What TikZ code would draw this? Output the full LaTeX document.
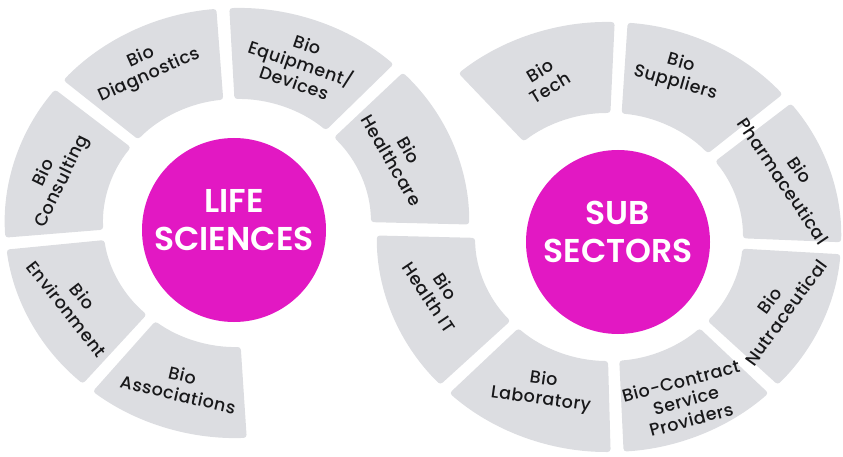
\documentclass[tikz,border=0pt]{standalone}
\usepackage{fontspec}
\setmainfont{Poppins}[UprightFont=* Medium, BoldFont=* SemiBold]
\newfontfamily\lblfont{Poppins}[UprightFont=* Medium, LetterSpace=3]
\usepackage{tikz}
\definecolor{segGray}{RGB}{220,221,225}
\definecolor{hubPink}{RGB}{226,24,195}
\definecolor{txtDark}{RGB}{24,24,26}
% one piece of a ring, from angle #1 to angle #2
\newcommand{\ringseg}[2]{%
  \fill[seg] ({#1+1.6}:215) arc[start angle={#1+1.6}, end angle={#2-1.6}, radius=215]
    -- ({#2-2.4}:124) arc[start angle={#2-2.4}, end angle={#1+2.4}, radius=124] -- cycle;}

\begin{document}
\begin{tikzpicture}[x=1pt,y=1pt]
      \tikzstyle{seg}=[fill=segGray, rounded corners=3pt]
      \tikzstyle{lbl}=[font=\lblfont\fontsize{17.5}{20}\selectfont, text=txtDark, align=center, inner sep=0pt]
      \tikzstyle{hub}=[circle, fill=hubPink, minimum size=184pt, inner sep=0pt]
      \tikzstyle{hubtext}=[font=\fontsize{33}{38}\selectfont\bfseries, text=white, align=center, inner sep=0pt]
      \useasboundingbox (0,0) rectangle (843,456);
      \clip (0,0) rectangle (843,456);
      %
      % left ring
      \begin{scope}[shift={(237,233)}, xscale=1.08]
        \ringseg{-2}{46}
        \ringseg{46}{93.5}
        \ringseg{93.5}{140}
        \ringseg{140}{185.5}
        \ringseg{185.5}{230}
        \ringseg{230}{274}
        \node [lbl, rotate=-60] (hcare) at (24.2:166)  {Bio\\Healthcare};
        \node [lbl, rotate=-19] (equip) at (69.7:170)  {Bio\\Equipment/\\Devices};
        \node [lbl, rotate=24]  (diag)  at (118.5:178) {Bio\\Diagnostics};
        \node [lbl, rotate=64]  (cons)  at (165:176)   {Bio\\Consulting};
        \node [lbl, rotate=-52] (envir) at (208:170)   {Bio\\Environment};
        \node [lbl, rotate=-13] (assoc) at (252:170)   {Bio\\Associations};
      \end{scope}
      %
      % right ring
      \begin{scope}[shift={(609,219)}, xscale=1.08]
        \ringseg{87}{132}
        \ringseg{40}{87}
        \ringseg{-3}{40}
        \ringseg{-45}{-3}
        \ringseg{-88}{-45}
        \ringseg{-135}{-88}
        \ringseg{-182}{-135}
        \node [lbl, rotate=31]  (tech)  at (110.6:169) {Bio\\Tech};
        \node [lbl, rotate=-16] (supp)  at (68.7:176)  {Bio\\Suppliers};
        \node [lbl, rotate=-56] (pharm) at (20:180)    {Bio\\Pharmaceutical};
        \node [lbl, rotate=54]  (nutra) at (-24:171)   {Bio\\Nutraceutical};
        \node [lbl, rotate=15]  (contr) at (-66.4:178) {Bio-Contract\\Service\\Providers};
        \node [lbl, rotate=-8]  (lab)   at (248:165)   {Bio\\Laboratory};
        \node [lbl, rotate=-56] (hit)   at (199:168)   {Bio\\Health IT};
      \end{scope}
      %
      % centres
      \node [hub] (life) at (234,226) {};
      \node [hubtext] (lifet) at ([yshift=10pt]life.center) {LIFE\\SCIENCES};
      \node [hub] (sub) at (618,214) {};
      \node [hubtext] (subt) at ([yshift=10pt]sub.center) {SUB\\SECTORS};
\end{tikzpicture}
\end{document}
